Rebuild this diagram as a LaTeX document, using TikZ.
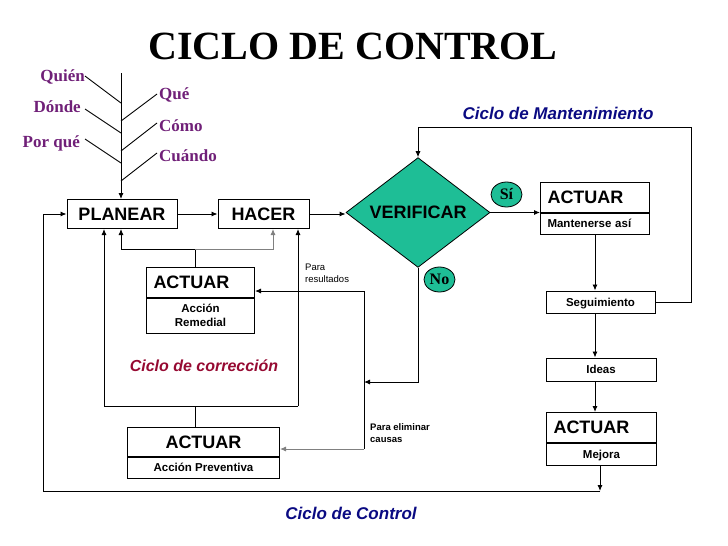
\documentclass[tikz,border=0pt]{standalone}
\usepackage{fontspec}
\setmainfont{Liberation Sans}
\newfontfamily\tnr{Liberation Serif}
\usetikzlibrary{arrows.meta,shapes.geometric,calc}
\definecolor{tealf}{RGB}{30,190,150}
\definecolor{purp}{RGB}{112,32,120}
\definecolor{navyt}{RGB}{10,10,130}
\definecolor{maroont}{RGB}{150,10,50}
\newcommand{\fsz}[2]{\fontsize{#1}{#2}\selectfont}
\begin{document}
\begin{tikzpicture}[x=1pt,y=-1pt,
  ln/.style={line width=0.9pt},
  arr/.style={ln,-{Latex[length=6pt,width=5pt]}},
  box/.style={draw,line width=1pt,inner sep=0pt,fill=white},
  big/.style={font=\fsz{18}{21}\bfseries},
  sm/.style={font=\fsz{11.5}{14}\bfseries},
  sl/.style={text height=8.5pt,text depth=0pt},
  lefttext/.style={align=left,inner xsep=7pt},
  fish/.style={font=\tnr\fsz{17}{20}\bfseries,text=purp,inner sep=0pt},
  oval/.style={ellipse,draw,fill=tealf,line width=0.8pt,minimum width=31pt,minimum height=25pt,inner sep=0pt,font=\tnr\fsz{16}{18}\bfseries},
  divider/.style={line width=2pt}]
\useasboundingbox (0,0) rectangle (728,546);

% title
\node[font=\tnr\fsz{40}{44}\bfseries] (title) at (353,46) {CICLO DE CONTROL};

% fishbone labels
\node[fish,anchor=base east] (qui) at (85,81) {Quién};
\node[fish,anchor=base east] (don) at (81,112) {Dónde};
\node[fish,anchor=base east] (porq) at (80,147) {Por qué};
\node[fish,anchor=base west] (que) at (159,99) {Qué};
\node[fish,anchor=base west] (como) at (159,131) {Cómo};
\node[fish,anchor=base west] (cuan) at (159,161) {Cuándo};

% main nodes
\node[box,big,minimum width=110pt,minimum height=29pt] (planear) at (122,214) {PLANEAR};
\node[box,big,minimum width=91pt,minimum height=29pt] (hacer) at (263.5,214) {HACER};
\node[diamond,draw,fill=tealf,line width=0.8pt,minimum width=144pt,minimum height=84pt,inner sep=0pt,big] (verif) at (418,212.5) {VERIFICAR};

% ACTUAR mantenerse
\node[box,big,lefttext,anchor=north west,minimum width=109pt,text width=95pt,minimum height=30pt] (mant) at (540,182) {ACTUAR};
\node[box,sl,lefttext,anchor=north west,minimum width=109pt,text width=95pt,minimum height=22pt,font=\fsz{11.5}{13}\bfseries] (mant2) at (540,212) {Mantenerse así};
\draw[divider] (mant.south west) -- (mant.south east);

\node[box,sm,sl,minimum width=109pt,minimum height=22pt] (seg) at (600.5,302) {Seguimiento};
\node[box,sm,sl,minimum width=110pt,minimum height=23pt] (ideas) at (601,369.5) {Ideas};

% ACTUAR mejora
\node[box,big,lefttext,anchor=north west,minimum width=110pt,text width=96pt,minimum height=30pt] (mej) at (546,412) {ACTUAR};
\node[box,sm,sl,anchor=north west,minimum width=110pt,minimum height=23pt] (mej2) at (546,442) {Mejora};
\draw[divider] (mej.south west) -- (mej.south east);

% ACTUAR remedial
\node[box,big,lefttext,anchor=north west,minimum width=108pt,text width=94pt,minimum height=30pt] (rem) at (146,267) {ACTUAR};
\node[box,sm,align=center,anchor=north west,minimum width=108pt,minimum height=36pt] (rem2) at (146,297) {Acción\\Remedial};
\draw[divider] (rem.south west) -- (rem.south east);

% ACTUAR preventiva
\node[box,big,anchor=north west,minimum width=152pt,minimum height=29pt] (prev) at (127,427) {ACTUAR};
\node[box,sm,sl,anchor=north west,minimum width=152pt,minimum height=22pt] (prev2) at (127,456) {Acción Preventiva};
\draw[divider] (prev.south west) -- (prev.south east);

% Si / No
\node[oval] (si) at (506.5,194.5) {Sí};
\node[oval] (no) at (439.5,279.5) {No};

% cycle labels
\node[font=\fsz{17}{20}\bfseries\itshape,text=navyt] (cman) at (558,113) {Ciclo de Mantenimiento};
\node[font=\fsz{17}{20}\bfseries\itshape,text=navyt] (cctl) at (351,513) {Ciclo de Control};
\node[font=\fsz{16}{19}\bfseries\itshape,text=maroont] (ccor) at (204,366) {Ciclo de corrección};
\node[font=\fsz{9.5}{12},align=left,anchor=north west,inner sep=0pt] (pres) at (305,264) {Para\\resultados};
\node[font=\fsz{9.5}{12}\bfseries,align=left,anchor=north west,inner sep=0pt] (pel) at (370,423) {Para eliminar\\causas};

% coordinates
\coordinate (sp) at (121,73);
\coordinate (q1) at (85,76);   \coordinate (q2) at (121,103);
\coordinate (d1) at (85,109);  \coordinate (d2) at (121,133);
\coordinate (p1) at (85,139);  \coordinate (p2) at (121,163);
\coordinate (u1) at (157,94);  \coordinate (u2) at (121,121);
\coordinate (c1) at (157,123); \coordinate (c2) at (121,151);
\coordinate (k1) at (157,153); \coordinate (k2) at (121,181);
\coordinate (ax) at (595,0);
\coordinate (mtr) at (691,127);
\coordinate (cc) at (600,491);
\coordinate (cl) at (43,491);
\coordinate (rj) at (195,249);
\coordinate (cbl) at (104,406);
\coordinate (cbr) at (298,406);
\coordinate (cbm) at (195,406);
\coordinate (pr) at (364,291);
\coordinate (pe) at (364,449);
\coordinate (nj) at (364,382);

% fishbone
\draw[arr] (sp) -- (sp |- planear.north);
\draw[ln] (q1) -- (q2);
\draw[ln] (d1) -- (d2);
\draw[ln] (p1) -- (p2);
\draw[ln] (u1) -- (u2);
\draw[ln] (c1) -- (c2);
\draw[ln] (k1) -- (k2);

% main flow
\draw[arr] (planear.east) -- (hacer.west);
\draw[arr] (hacer.east) -- (hacer.east -| verif.west);
\draw[arr] (verif.east) -- (verif.east -| mant.west);
\draw[arr] (mant2.south -| ax) -- (seg.north -| ax);
\draw[arr] (seg.south -| ax) -- (ideas.north -| ax);
\draw[arr] (ideas.south -| ax) -- (mej.north -| ax);
\draw[arr] (seg.east) -| (mtr) -| (verif.north);
\draw[arr] (mej2.south -| cc) -- (cc);
\draw[arr] (cc) -- (cl) |- (planear.west);

% correction cycle
\draw[ln] (rem.north -| rj) -- (rj);
\draw[arr] (rj) -| (sp |- planear.south);
\draw[arr,gray] (rj) -| ([xshift=9.5pt]hacer.south);
\draw[ln] (cbl) -- (cbr);
\draw[arr] (cbl) -- (cbl |- planear.south);
\draw[arr] (cbr) -- (cbr |- hacer.south);
\draw[ln] (cbm) -- (cbm |- prev.north);

% verification outcomes
\draw[ln] (pr) -- (pe);
\draw[arr] (pr) -- (pr -| rem.east);
\draw[arr,gray] (pe) -- (pe -| prev.east);
\draw[arr] (verif.south) |- (nj);
\end{tikzpicture}
\end{document}
